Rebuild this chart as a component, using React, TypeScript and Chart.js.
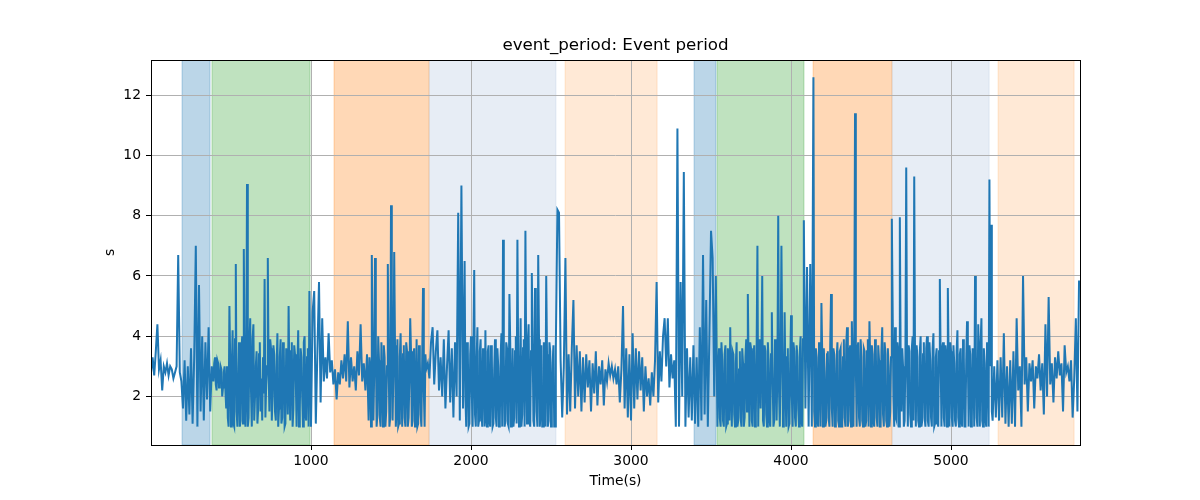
import React, { useEffect, useRef } from 'react';
import { Chart, registerables } from 'chart.js';

Chart.register(...registerables);

// event period samples as [time (s), period (s)]
const lead: [number, number][] = [
  [0, 2.8], [10, 3.3], [20, 2.7], [30, 3.5], [40, 4.4], [50, 2.9], [60, 3.2], [70, 2.2], [80, 3.0], [90, 2.8],
  [100, 3.1], [110, 2.7], [120, 3.0], [130, 2.9], [140, 2.6], [150, 2.8], [160, 3.0], [170, 6.7], [180, 2.8], [190, 2.5],
];
const phaseA1: [number, number][] = [
  [200, 1.6], [210, 3.2], [220, 1.2], [230, 3.0], [240, 1.4], [250, 3.6], [260, 1.1], [270, 3.3], [280, 7.0], [290, 1.0],
  [300, 5.7], [310, 1.5], [320, 4.0], [330, 1.2], [340, 3.8], [350, 1.9], [360, 4.3], [370, 1.5],
];
const phaseB1: [number, number][] = [
  [380, 3.0], [390, 2.5], [400, 3.3], [410, 2.2], [420, 3.1], [430, 2.4], [440, 2.9], [450, 2.3], [460, 3.0], [470, 1.6],
  [480, 1.3], [490, 5.0], [500, 1.0], [510, 4.2], [520, 1.0], [530, 6.4], [540, 1.0], [550, 3.8], [560, 1.2], [570, 4.0],
  [580, 6.9], [590, 1.0], [600, 9.05], [610, 1.3], [620, 4.6], [630, 1.0], [640, 4.4], [650, 2.0], [660, 3.5], [670, 1.6],
  [680, 3.8], [690, 2.6], [700, 3.3], [710, 5.9], [720, 2.4], [730, 6.6], [740, 1.5], [750, 3.6], [760, 2.0], [770, 3.4],
  [780, 1.2], [790, 4.1], [800, 1.6], [810, 3.9], [820, 1.3], [830, 3.5], [840, 1.1], [850, 3.2], [860, 5.0], [870, 1.2],
  [880, 3.8], [890, 1.6], [900, 3.4], [910, 1.0], [920, 4.2], [930, 1.5], [940, 3.3], [950, 1.0], [960, 4.0], [970, 1.2],
  [980, 3.6], [990, 5.5],
];
const phaseB1Mid: [number, number][] = [
  [385, 2.7], [395, 3.1], [405, 2.4], [415, 3.2], [425, 2.3], [435, 3.0], [445, 2.0], [455, 2.8], [465, 2.2], [475, 3.0],
  [485, 1.0], [495, 3.2], [505, 2.8], [515, 1.1], [525, 3.9], [535, 1.5], [545, 2.4], [555, 1.0], [565, 3.5], [575, 1.1],
  [585, 3.0], [595, 2.2], [605, 1.0], [615, 3.7], [625, 2.2], [635, 3.9], [645, 1.2], [655, 3.0], [665, 1.1], [675, 3.4],
  [685, 1.5], [695, 1.2], [705, 2.1], [715, 1.3], [725, 3.0], [735, 2.8], [745, 3.9], [755, 1.2], [765, 3.7], [775, 1.5],
  [785, 3.0], [795, 1.0], [805, 3.3], [815, 1.1], [825, 3.8], [835, 1.0], [845, 3.6], [855, 1.4], [865, 2.4], [875, 3.5],
  [885, 1.0], [895, 3.7], [905, 2.5], [915, 3.0], [925, 1.0], [935, 3.6], [945, 2.0], [955, 3.8], [965, 1.4], [975, 3.3],
  [985, 1.0],
];
const gap1: [number, number][] = [
  [1000, 1.0], [1010, 4.8], [1020, 5.5], [1030, 1.1], [1040, 3.5], [1050, 5.8], [1060, 1.8], [1070, 4.6], [1080, 2.5],
  [1090, 3.3], [1100, 2.6], [1110, 4.1], [1120, 2.8], [1130, 3.2], [1140, 2.4],
];
const phaseC1: [number, number][] = [
  [1150, 2.9], [1160, 1.9], [1170, 2.8], [1180, 2.4], [1190, 3.2], [1200, 2.6], [1210, 3.4], [1220, 2.5], [1230, 4.5],
  [1240, 2.3], [1250, 3.3], [1260, 2.5], [1270, 3.0], [1280, 2.2], [1290, 3.5], [1300, 2.7], [1310, 4.4], [1320, 2.5],
  [1330, 3.1], [1340, 2.2], [1350, 3.4], [1360, 1.2], [1370, 3.0], [1380, 6.7], [1390, 1.2], [1400, 6.6], [1410, 1.0],
  [1420, 4.0], [1430, 1.3], [1440, 3.8], [1450, 1.0], [1460, 3.3], [1470, 1.5], [1480, 6.4], [1490, 1.0], [1500, 8.35],
  [1510, 1.2], [1520, 6.8], [1530, 1.0], [1540, 3.9], [1550, 1.1], [1560, 4.1], [1570, 1.0], [1580, 3.7], [1590, 1.0],
  [1600, 3.5], [1610, 1.3], [1620, 4.6], [1630, 1.0], [1640, 3.4], [1650, 1.0], [1660, 3.9], [1670, 1.1], [1680, 3.2],
  [1690, 1.0], [1700, 5.6], [1710, 1.0], [1720, 2.9], [1730, 3.1],
];
const phaseC1Mid: [number, number][] = [
  [1365, 3.3], [1375, 1.0], [1385, 3.6], [1395, 2.8], [1405, 3.9], [1415, 1.4], [1425, 3.2], [1435, 1.0], [1445, 2.5],
  [1455, 3.7], [1465, 1.0], [1475, 3.0], [1485, 3.4], [1495, 1.3], [1505, 3.6], [1515, 2.9], [1525, 3.7], [1535, 1.6],
  [1545, 1.0], [1555, 3.3], [1565, 2.2], [1575, 3.4], [1585, 1.3], [1595, 3.8], [1605, 1.0], [1615, 2.6], [1625, 3.5],
  [1635, 1.2], [1645, 3.6], [1655, 1.6], [1665, 1.0], [1675, 3.7], [1685, 1.4], [1695, 3.3], [1705, 2.2], [1715, 3.4],
];
const phaseD1: [number, number][] = [
  [1740, 2.6], [1750, 3.8], [1760, 4.3], [1770, 2.4], [1780, 3.5], [1790, 4.2], [1800, 2.2], [1810, 3.3], [1820, 2.0],
  [1830, 3.9], [1840, 1.6], [1850, 3.0], [1860, 4.2], [1870, 1.8], [1880, 3.6], [1890, 1.3], [1900, 3.8], [1910, 2.0],
  [1920, 8.1], [1930, 1.2], [1940, 9.0], [1950, 1.6], [1960, 6.5], [1970, 1.0], [1980, 3.6], [1990, 1.1], [2000, 4.0],
  [2010, 1.0], [2020, 6.2], [2030, 1.0], [2040, 4.3], [2050, 1.2], [2060, 3.9], [2070, 1.0], [2080, 3.2], [2090, 4.2],
  [2100, 1.0], [2110, 3.7], [2120, 1.0], [2130, 3.4], [2140, 1.1], [2150, 3.9], [2160, 1.0], [2170, 3.0], [2180, 1.2],
  [2190, 4.1], [2200, 7.2], [2210, 1.0], [2220, 3.8], [2230, 1.1], [2240, 5.4], [2250, 1.0], [2260, 3.6], [2270, 1.3],
  [2280, 4.0], [2290, 7.2], [2300, 1.0], [2310, 4.6], [2320, 1.4], [2330, 3.9], [2340, 7.5], [2350, 1.1], [2360, 4.4],
  [2370, 1.0], [2380, 6.1], [2390, 1.2], [2400, 5.6], [2410, 1.5], [2420, 6.7], [2430, 1.0], [2440, 3.7], [2450, 1.0],
  [2460, 3.3], [2470, 6.0], [2480, 1.0], [2490, 3.8], [2500, 1.0], [2510, 3.1], [2520, 1.0], [2530, 3.6],
];
const phaseD1Mid: [number, number][] = [
  [1965, 2.0], [1975, 3.8], [1985, 1.0], [1995, 3.4], [2005, 2.1], [2015, 3.7], [2025, 1.4], [2035, 3.2], [2045, 1.0],
  [2055, 3.5], [2065, 1.6], [2075, 3.6], [2085, 1.0], [2095, 1.3], [2105, 3.5], [2115, 1.2], [2125, 3.7], [2135, 1.0],
  [2145, 2.9], [2155, 1.3], [2165, 3.6], [2175, 1.0], [2185, 3.3], [2195, 1.0], [2205, 3.4], [2215, 1.2], [2225, 3.6],
  [2235, 1.0], [2245, 3.8], [2255, 1.4], [2265, 1.0], [2275, 3.5], [2285, 1.1], [2295, 3.1], [2305, 2.2], [2315, 1.0],
  [2325, 3.6], [2335, 1.0], [2345, 3.2], [2355, 3.8], [2365, 1.2], [2375, 3.5], [2385, 3.9], [2395, 1.0], [2405, 3.4],
  [2415, 1.0], [2425, 3.9], [2435, 1.5], [2445, 1.0], [2455, 3.8], [2465, 1.0], [2475, 3.4], [2485, 1.2], [2495, 3.5],
  [2505, 1.6], [2515, 3.7], [2525, 1.0],
];
const gap2: [number, number][] = [
  [2540, 8.2], [2550, 8.1], [2560, 3.2], [2570, 1.3], [2580, 3.0], [2590, 6.6],
];
const phaseE1: [number, number][] = [
  [2600, 1.4], [2610, 3.4], [2620, 1.5], [2630, 3.6], [2640, 5.2], [2650, 1.6], [2660, 3.7], [2670, 2.0], [2680, 3.5],
  [2690, 1.5], [2700, 3.3], [2710, 1.8], [2720, 3.4], [2730, 2.3], [2740, 3.2], [2750, 1.5], [2760, 3.1], [2770, 2.1],
  [2780, 3.5], [2790, 1.7], [2800, 3.0], [2810, 2.4], [2820, 3.2], [2830, 1.7], [2840, 2.9], [2850, 2.5], [2860, 3.1],
  [2870, 2.7], [2880, 3.0], [2890, 2.6], [2900, 2.9], [2910, 2.4], [2920, 3.0], [2930, 1.8], [2940, 2.9], [2950, 5.0],
  [2960, 1.6], [2970, 3.6], [2980, 1.3], [2990, 3.4], [3000, 1.2], [3010, 4.1], [3020, 1.6], [3030, 3.6], [3040, 1.9],
  [3050, 3.5], [3060, 2.2], [3070, 3.3], [3080, 1.5], [3090, 3.0], [3100, 2.0], [3110, 2.6], [3120, 1.7], [3130, 2.8],
  [3140, 2.0], [3150, 3.2], [3160, 5.8],
];
const gap3: [number, number][] = [
  [3170, 1.8], [3180, 3.5], [3190, 2.5], [3200, 4.0], [3210, 4.6], [3220, 3.0], [3230, 4.6], [3240, 2.3], [3250, 3.4],
  [3260, 2.6], [3270, 3.2], [3280, 1.0], [3290, 10.9], [3300, 1.0], [3310, 5.8], [3320, 2.0], [3330, 9.45], [3340, 1.0],
  [3350, 3.6], [3360, 1.3], [3370, 3.3], [3380, 1.2], [3390, 3.7],
];
const phaseA2: [number, number][] = [
  [3400, 1.1], [3410, 3.3], [3420, 1.0], [3430, 4.3], [3440, 1.2], [3450, 6.7], [3460, 1.4], [3470, 5.2], [3480, 1.0],
  [3490, 4.1], [3500, 7.5], [3510, 6.6], [3520, 2.0], [3530, 6.0],
];
const phaseB2: [number, number][] = [
  [3540, 1.0], [3550, 3.6], [3560, 1.0], [3570, 3.2], [3580, 1.0], [3590, 3.7], [3600, 1.1], [3610, 3.3], [3620, 4.3],
  [3630, 1.0], [3640, 3.4], [3650, 1.0], [3660, 3.8], [3670, 1.2], [3680, 3.5], [3690, 1.0], [3700, 3.1], [3710, 1.3],
  [3720, 3.9], [3730, 5.4], [3740, 1.0], [3750, 3.6], [3760, 1.0], [3770, 3.7], [3780, 1.4], [3790, 7.0], [3800, 3.0],
  [3810, 1.6], [3820, 6.0], [3830, 1.0], [3840, 3.5], [3850, 1.0], [3860, 3.2], [3870, 1.0], [3880, 4.8], [3890, 1.0],
  [3900, 3.9], [3910, 1.2], [3920, 8.0], [3930, 1.0], [3940, 7.0], [3950, 1.0], [3960, 4.8], [3970, 1.0], [3980, 3.6],
  [3990, 1.1], [4000, 4.7], [4010, 1.0], [4020, 3.5], [4030, 1.0], [4040, 3.3], [4050, 1.0], [4060, 4.0], [4070, 1.0],
  [4080, 7.85],
];
const phaseB2Mid: [number, number][] = [
  [3545, 3.0], [3555, 1.3], [3565, 3.8], [3575, 1.2], [3585, 3.4], [3595, 1.0], [3605, 3.6], [3615, 1.2], [3625, 2.4],
  [3635, 3.5], [3645, 1.4], [3655, 3.1], [3665, 1.0], [3675, 2.9], [3685, 1.3], [3695, 3.6], [3705, 1.0], [3715, 3.3],
  [3725, 1.5], [3735, 3.0], [3745, 3.8], [3755, 1.2], [3765, 3.3], [3775, 1.0], [3785, 3.6], [3795, 1.0], [3805, 3.9],
  [3815, 3.4], [3825, 1.2], [3835, 3.7], [3845, 1.4], [3855, 3.8], [3865, 1.3], [3875, 3.4], [3885, 2.6], [3895, 1.2],
  [3905, 3.4], [3915, 3.0], [3925, 2.2], [3935, 3.3], [3945, 3.6], [3955, 1.3], [3965, 2.5], [3975, 3.3], [3985, 1.0],
  [3995, 3.1], [4005, 2.0], [4015, 3.8], [4025, 1.3], [4035, 3.7], [4045, 1.6], [4055, 3.5], [4065, 1.2], [4075, 3.9],
];
const gap4: [number, number][] = [
  [4090, 1.6], [4100, 6.3], [4110, 1.0], [4120, 6.4], [4130, 1.0], [4140, 12.6],
];
const phaseC2: [number, number][] = [
  [4150, 1.0], [4160, 3.3], [4170, 1.0], [4180, 3.0], [4190, 5.1], [4200, 1.0], [4210, 2.8], [4220, 1.2], [4230, 3.5],
  [4240, 1.0], [4250, 5.4], [4260, 1.0], [4270, 3.4], [4280, 1.1], [4290, 3.8], [4300, 1.0], [4310, 3.6], [4320, 1.0],
  [4330, 3.9], [4340, 1.0], [4350, 4.3], [4360, 1.2], [4370, 3.7], [4380, 4.5], [4390, 1.0], [4400, 11.4], [4410, 1.0],
  [4420, 3.8], [4430, 1.0], [4440, 3.3], [4450, 1.0], [4460, 3.5], [4470, 1.2], [4480, 3.9], [4490, 4.5], [4500, 1.0],
  [4510, 3.4], [4520, 1.0], [4530, 3.6], [4540, 1.0], [4550, 3.2], [4560, 1.0], [4570, 4.3], [4580, 1.0], [4590, 3.4],
  [4600, 1.0], [4610, 3.0], [4620, 1.5], [4630, 7.9],
];
const phaseC2Mid: [number, number][] = [
  [4145, 1.5], [4155, 3.6], [4165, 1.2], [4175, 3.8], [4185, 1.0], [4195, 3.4], [4205, 3.6], [4215, 1.0], [4225, 3.4],
  [4235, 1.3], [4245, 3.7], [4255, 1.6], [4265, 3.6], [4275, 1.0], [4285, 3.2], [4295, 1.2], [4305, 3.5], [4315, 1.0],
  [4325, 3.3], [4335, 1.3], [4345, 3.7], [4355, 1.0], [4365, 3.5], [4375, 1.0], [4385, 3.2], [4395, 3.6], [4405, 3.0],
  [4415, 3.6], [4425, 1.3], [4435, 3.9], [4445, 1.2], [4455, 3.6], [4465, 1.0], [4475, 3.5], [4485, 1.0], [4495, 3.2],
  [4505, 3.7], [4515, 1.2], [4525, 3.9], [4535, 1.3], [4545, 3.7], [4555, 1.0], [4565, 3.5], [4575, 1.4], [4585, 3.8],
  [4595, 1.2], [4605, 3.6], [4615, 1.0], [4625, 3.3],
];
const phaseD2: [number, number][] = [
  [4640, 2.0], [4650, 4.3], [4660, 1.2], [4670, 3.5], [4680, 7.95], [4690, 1.5], [4700, 3.0], [4710, 1.2], [4720, 9.6],
  [4730, 1.0], [4740, 3.5], [4750, 1.0], [4760, 4.0], [4770, 9.3], [4780, 1.0], [4790, 3.3], [4800, 1.0], [4810, 4.0],
  [4820, 1.2], [4830, 3.8], [4840, 1.0], [4850, 4.0], [4860, 1.0], [4870, 3.2], [4880, 1.0], [4890, 4.1], [4900, 1.1],
  [4910, 3.6], [4920, 1.0], [4930, 5.9], [4940, 1.0], [4950, 3.8], [4960, 1.0], [4970, 3.4], [4980, 5.6], [4990, 1.0],
  [5000, 3.5], [5010, 1.0], [5020, 3.1], [5030, 1.0], [5040, 4.2], [5050, 1.0], [5060, 3.6], [5070, 1.0], [5080, 3.3],
  [5090, 1.0], [5100, 4.5], [5110, 1.0], [5120, 3.4], [5130, 1.2], [5140, 3.0], [5150, 6.0], [5160, 1.3], [5170, 4.4],
  [5180, 1.0], [5190, 4.6], [5200, 1.0], [5210, 3.1], [5220, 1.0], [5230, 3.5], [5240, 9.2], [5250, 7.7], [5260, 1.2],
];
const phaseD2Mid: [number, number][] = [
  [4645, 1.0], [4655, 1.3], [4665, 3.8], [4675, 1.0], [4685, 3.4], [4695, 3.6], [4705, 1.0], [4715, 3.4], [4725, 3.0],
  [4735, 3.7], [4745, 1.4], [4755, 3.6], [4765, 1.2], [4775, 3.2], [4785, 3.7], [4795, 1.2], [4805, 3.5], [4815, 1.0],
  [4825, 3.4], [4835, 1.3], [4845, 3.6], [4855, 1.2], [4865, 3.8], [4875, 1.3], [4885, 3.6], [4895, 1.0], [4905, 3.3],
  [4915, 1.2], [4925, 3.5], [4935, 3.3], [4945, 3.6], [4955, 1.3], [4965, 3.7], [4975, 1.0], [4985, 3.2], [4995, 3.8],
  [5005, 1.3], [5015, 3.7], [5025, 1.2], [5035, 3.5], [5045, 1.3], [5055, 3.4], [5065, 1.2], [5075, 3.9], [5085, 1.0],
  [5095, 3.2], [5105, 3.3], [5115, 3.7], [5125, 1.0], [5135, 3.6], [5145, 1.0], [5155, 3.6], [5165, 1.0], [5175, 3.2],
  [5185, 3.8], [5195, 1.2], [5205, 3.6], [5215, 1.3], [5225, 3.8], [5235, 1.0], [5245, 3.0], [5255, 1.5],
];
const phaseE2: [number, number][] = [
  [5270, 3.0], [5280, 1.3], [5290, 3.2], [5300, 1.2], [5310, 3.3], [5320, 1.3], [5330, 4.1], [5340, 1.1], [5350, 3.0],
  [5360, 1.0], [5370, 3.2], [5380, 1.1], [5390, 3.5], [5400, 1.0], [5410, 4.6], [5420, 2.2], [5430, 3.0], [5440, 1.0],
  [5450, 6.0], [5460, 2.4], [5470, 3.3], [5480, 1.5], [5490, 3.1], [5500, 2.5], [5510, 3.2], [5520, 1.6], [5530, 3.0],
  [5540, 2.6], [5550, 3.4], [5560, 2.2], [5570, 3.1], [5580, 1.4], [5590, 4.4], [5600, 2.0], [5610, 5.3], [5620, 2.4],
  [5630, 3.1], [5640, 1.8], [5650, 3.3], [5660, 2.6], [5670, 3.5], [5680, 2.7], [5690, 3.1], [5700, 1.5], [5710, 3.7],
  [5720, 2.8], [5730, 3.0], [5740, 2.5], [5750, 3.2], [5760, 1.3], [5770, 2.6], [5780, 4.6], [5790, 1.5], [5800, 5.85],
];

const segments = [
  lead, phaseA1, phaseB1, phaseB1Mid, gap1, phaseC1, phaseC1Mid, phaseD1, phaseD1Mid, gap2, phaseE1, gap3,
  phaseA2, phaseB2, phaseB2Mid, gap4, phaseC2, phaseC2Mid, phaseD2, phaseD2Mid, phaseE2,
];

// shaded phases: [start, end] in seconds, with a phase kind
const spanStarts = [194, 381, 1144, 1738, 2588, 3394, 3538, 4138, 4631, 5294];
const spanEnds = [369, 994, 1738, 2531, 3163, 3531, 4081, 4631, 5238, 5769];
const spanKinds = [0, 1, 2, 3, 4, 0, 1, 2, 3, 4];
const kindColors = [
  'rgba(31,119,180,0.3)',
  'rgba(44,160,44,0.3)',
  'rgba(255,127,14,0.3)',
  'rgba(176,196,222,0.3)',
  'rgba(255,127,14,0.17)',
];

const xTicks = [1000, 2000, 3000, 4000, 5000];
const yTicks = [2, 4, 6, 8, 10, 12];
const xMin = 0;
const xMax = 5806;
const yMin = 0.39;
const yMax = 13.17;

const TITLE = 'event_period: Event period';
const FONT = 'DejaVu Sans';

const framePlugin = {
  id: 'frame',
  beforeDraw(chart: any) {
    const { ctx, chartArea, scales } = chart;
    ctx.save();
    ctx.beginPath();
    ctx.rect(chartArea.left, chartArea.top, chartArea.right - chartArea.left, chartArea.bottom - chartArea.top);
    ctx.clip();
    spanStarts.forEach((s, i) => {
      const x0 = scales.x.getPixelForValue(s);
      const x1 = scales.x.getPixelForValue(spanEnds[i]);
      ctx.fillStyle = kindColors[spanKinds[i]];
      ctx.fillRect(x0, chartArea.top, x1 - x0, chartArea.bottom - chartArea.top);
      ctx.strokeStyle = kindColors[spanKinds[i]];
      ctx.lineWidth = 1;
      ctx.strokeRect(x0, chartArea.top, x1 - x0, chartArea.bottom - chartArea.top);
    });
    ctx.restore();
  },
  afterDatasetsDraw(chart: any) {
    const { ctx, chartArea } = chart;
    ctx.save();
    ctx.strokeStyle = '#000';
    ctx.lineWidth = 1;
    ctx.strokeRect(
      Math.round(chartArea.left) + 0.5,
      Math.round(chartArea.top) + 0.5,
      Math.round(chartArea.right - chartArea.left),
      Math.round(chartArea.bottom - chartArea.top)
    );
    // title centred over the plot area, as matplotlib does
    ctx.fillStyle = '#000';
    ctx.font = `16.7px "${FONT}"`;
    ctx.textAlign = 'center';
    ctx.textBaseline = 'middle';
    ctx.fillText(TITLE, (chartArea.left + chartArea.right) / 2, chartArea.top - 14);
    ctx.restore();
  },
};

const EventPeriodChart: React.FC = () => {
  const canvasRef = useRef<HTMLCanvasElement>(null);
  const chartRef = useRef<Chart | null>(null);

  useEffect(() => {
    if (!canvasRef.current) return;
    if (chartRef.current) chartRef.current.destroy();

    const points = segments
      .flat()
      .slice()
      .sort((a, b) => a[0] - b[0])
      .map(([t, v]) => ({ x: t, y: v }));

    chartRef.current = new Chart(canvasRef.current, {
      type: 'line',
      data: {
        datasets: [
          {
            label: 'event_period',
            data: points,
            borderColor: '#1f77b4',
            borderWidth: 2,
            pointRadius: 0,
            tension: 0,
            fill: false,
          },
        ],
      },
      options: {
        responsive: false,
        animation: false,
        devicePixelRatio: 1,
        layout: { padding: { left: 0, right: 120, top: 60, bottom: 0 } },
        plugins: {
          legend: { display: false },
          tooltip: { enabled: false },
          title: { display: false },
        },
        scales: {
          x: {
            type: 'linear',
            min: xMin,
            max: xMax,
            afterBuildTicks: (scale: any) => {
              scale.ticks = xTicks.map((v) => ({ value: v }));
            },
            afterFit: (scale: any) => {
              scale.height = 55;
            },
            ticks: {
              color: '#000',
              font: { family: FONT, size: 13.9 },
              padding: 3,
              maxRotation: 0,
              autoSkip: false,
              callback: (v: any) => String(v),
            },
            grid: { color: '#b0b0b0', lineWidth: 1, tickColor: '#000', tickLength: 5 },
            border: { display: false },
            title: {
              display: true,
              text: 'Time(s)',
              color: '#000',
              font: { family: FONT, size: 13.9 },
              padding: { top: 0, bottom: 10 },
            },
          },
          y: {
            type: 'linear',
            min: yMin,
            max: yMax,
            afterBuildTicks: (scale: any) => {
              scale.ticks = yTicks.map((v) => ({ value: v }));
            },
            afterFit: (scale: any) => {
              scale.width = 151;
            },
            ticks: {
              color: '#000',
              font: { family: FONT, size: 13.9 },
              padding: 5,
              autoSkip: false,
              callback: (v: any) => String(v),
            },
            grid: { color: '#b0b0b0', lineWidth: 1, tickColor: '#000', tickLength: 5 },
            border: { display: false },
            title: {
              display: true,
              text: 's',
              color: '#000',
              font: { family: FONT, size: 13.9 },
              padding: { top: 102, bottom: 0 },
            },
          },
        },
      },
      plugins: [framePlugin],
    });

    return () => {
      if (chartRef.current) {
        chartRef.current.destroy();
        chartRef.current = null;
      }
    };
  }, []);

  return (
    <div style={{ position: 'absolute', left: 0, top: 0, width: 1200, height: 500, background: '#fff' }}>
      <canvas ref={canvasRef} width={1200} height={500} style={{ width: 1200, height: 500 }} />
    </div>
  );
};

export default function App() {
  return <EventPeriodChart />;
}
